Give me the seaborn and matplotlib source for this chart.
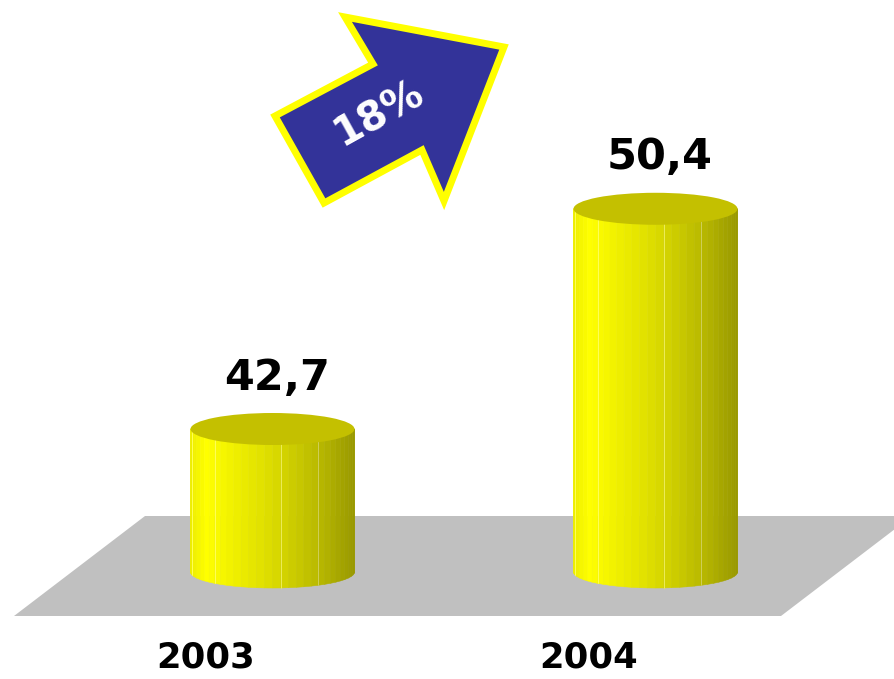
import numpy as np
import pandas as pd
import matplotlib
matplotlib.use("Agg")
import matplotlib.pyplot as plt
import seaborn as sns
from matplotlib.patches import Polygon, Ellipse

# Chart data
years = ["2003", "2004"]
values = [42.7, 50.4]
value_labels = ["42,7", "50,4"]
growth_label = "18%"

sns.set_theme(style="white")
plt.rcParams["font.family"] = ["DejaVu Sans"]

W, H = 895, 679
fig = plt.figure(figsize=(W / 100, H / 100), dpi=100)
fig.patch.set_facecolor("white")

# Background layer in pixel units: floor plane and growth arrow
bg = fig.add_axes([0, 0, 1, 1])
bg.set_xlim(0, W)
bg.set_ylim(H, 0)
bg.axis("off")
bg.set_zorder(0)
bg.add_patch(Polygon([(14, 616), (781, 616), (912, 516), (145, 516)],
                     closed=True, facecolor="#c0c0c0", edgecolor="none"))
arrow_pts = [(275, 116), (324, 203), (422, 150), (444, 201),
             (504, 47), (345, 17), (373, 64)]
bg.add_patch(Polygon(arrow_pts, closed=True, facecolor="#333399",
                     edgecolor="#ffff00", linewidth=5, joinstyle="miter"))
bg.text(379, 114, growth_label, rotation=29, rotation_mode="anchor",
        ha="center", va="center", color="white", fontsize=29, fontweight="bold")

# Value axes: the baseline sits on the floor
base = 37.7
px_per_unit = 28.6
ax = fig.add_axes([81 / W, (H - 572) / H, 766 / W, 512 / H])
ax.set_zorder(1)
ax.patch.set_alpha(0)

df = pd.DataFrame({"year": years, "value": values})
sns.barplot(data=df, x="year", y="value", ax=ax, width=0.428,
            color="#ffff00", errorbar=None)
ax.set_xlim(-0.5, 1.5)
ax.set_ylim(base, base + 512 / px_per_unit)
ax.axis("off")

b = 16 / px_per_unit  # half-height of the cylinder ellipses, in data units
shade_f = [0.0, 0.1, 0.5, 0.75, 1.0]
shade_i = [0.93, 1.0, 0.86, 0.74, 0.6]
seams = {2, 8, 17, 22}

for p, lbl, yr in zip(list(ax.patches), value_labels, years):
    x0, w, v = p.get_x(), p.get_width(), p.get_height()
    p.set_visible(False)
    cx, r = x0 + w / 2, w / 2
    th = np.linspace(0, np.pi, 33)
    xs = cx - r * np.cos(th)
    for i in range(len(th) - 1):
        xa, xb = xs[i], xs[i + 1]
        f = ((xa + xb) / 2 - x0) / w
        I = np.interp(f, shade_f, shade_i)
        col = (I, I, 0.0)
        ax.add_patch(Polygon([(xa, v), (xa, base - b * np.sin(th[i])),
                              (xb, base - b * np.sin(th[i + 1])), (xb, v)],
                             closed=True, facecolor=col, edgecolor=col,
                             linewidth=0.4, clip_on=False, zorder=2))
        if i in seams:
            lc = (min(1, I + 0.1), min(1, I + 0.1), 0.35)
            ax.plot([xa, xa], [v, base - b * np.sin(th[i])], color=lc,
                    linewidth=0.7, clip_on=False, zorder=2.5)
    ax.add_patch(Ellipse((cx, v), w, 2 * b, facecolor="#c4c000",
                         edgecolor="none", clip_on=False, zorder=3))
    ax.annotate(lbl, xy=(cx, v), xytext=(3.2, 28.4), textcoords="offset points",
                ha="center", va="baseline", fontsize=31, fontweight="bold",
                color="black", annotation_clip=False)
    ax.annotate(yr, xy=(cx, base), xytext=(-48, -69), textcoords="offset points",
                ha="center", va="baseline", fontsize=25.5, fontweight="bold",
                color="black", annotation_clip=False)

fig.savefig("out.png", dpi=100, facecolor="white")
